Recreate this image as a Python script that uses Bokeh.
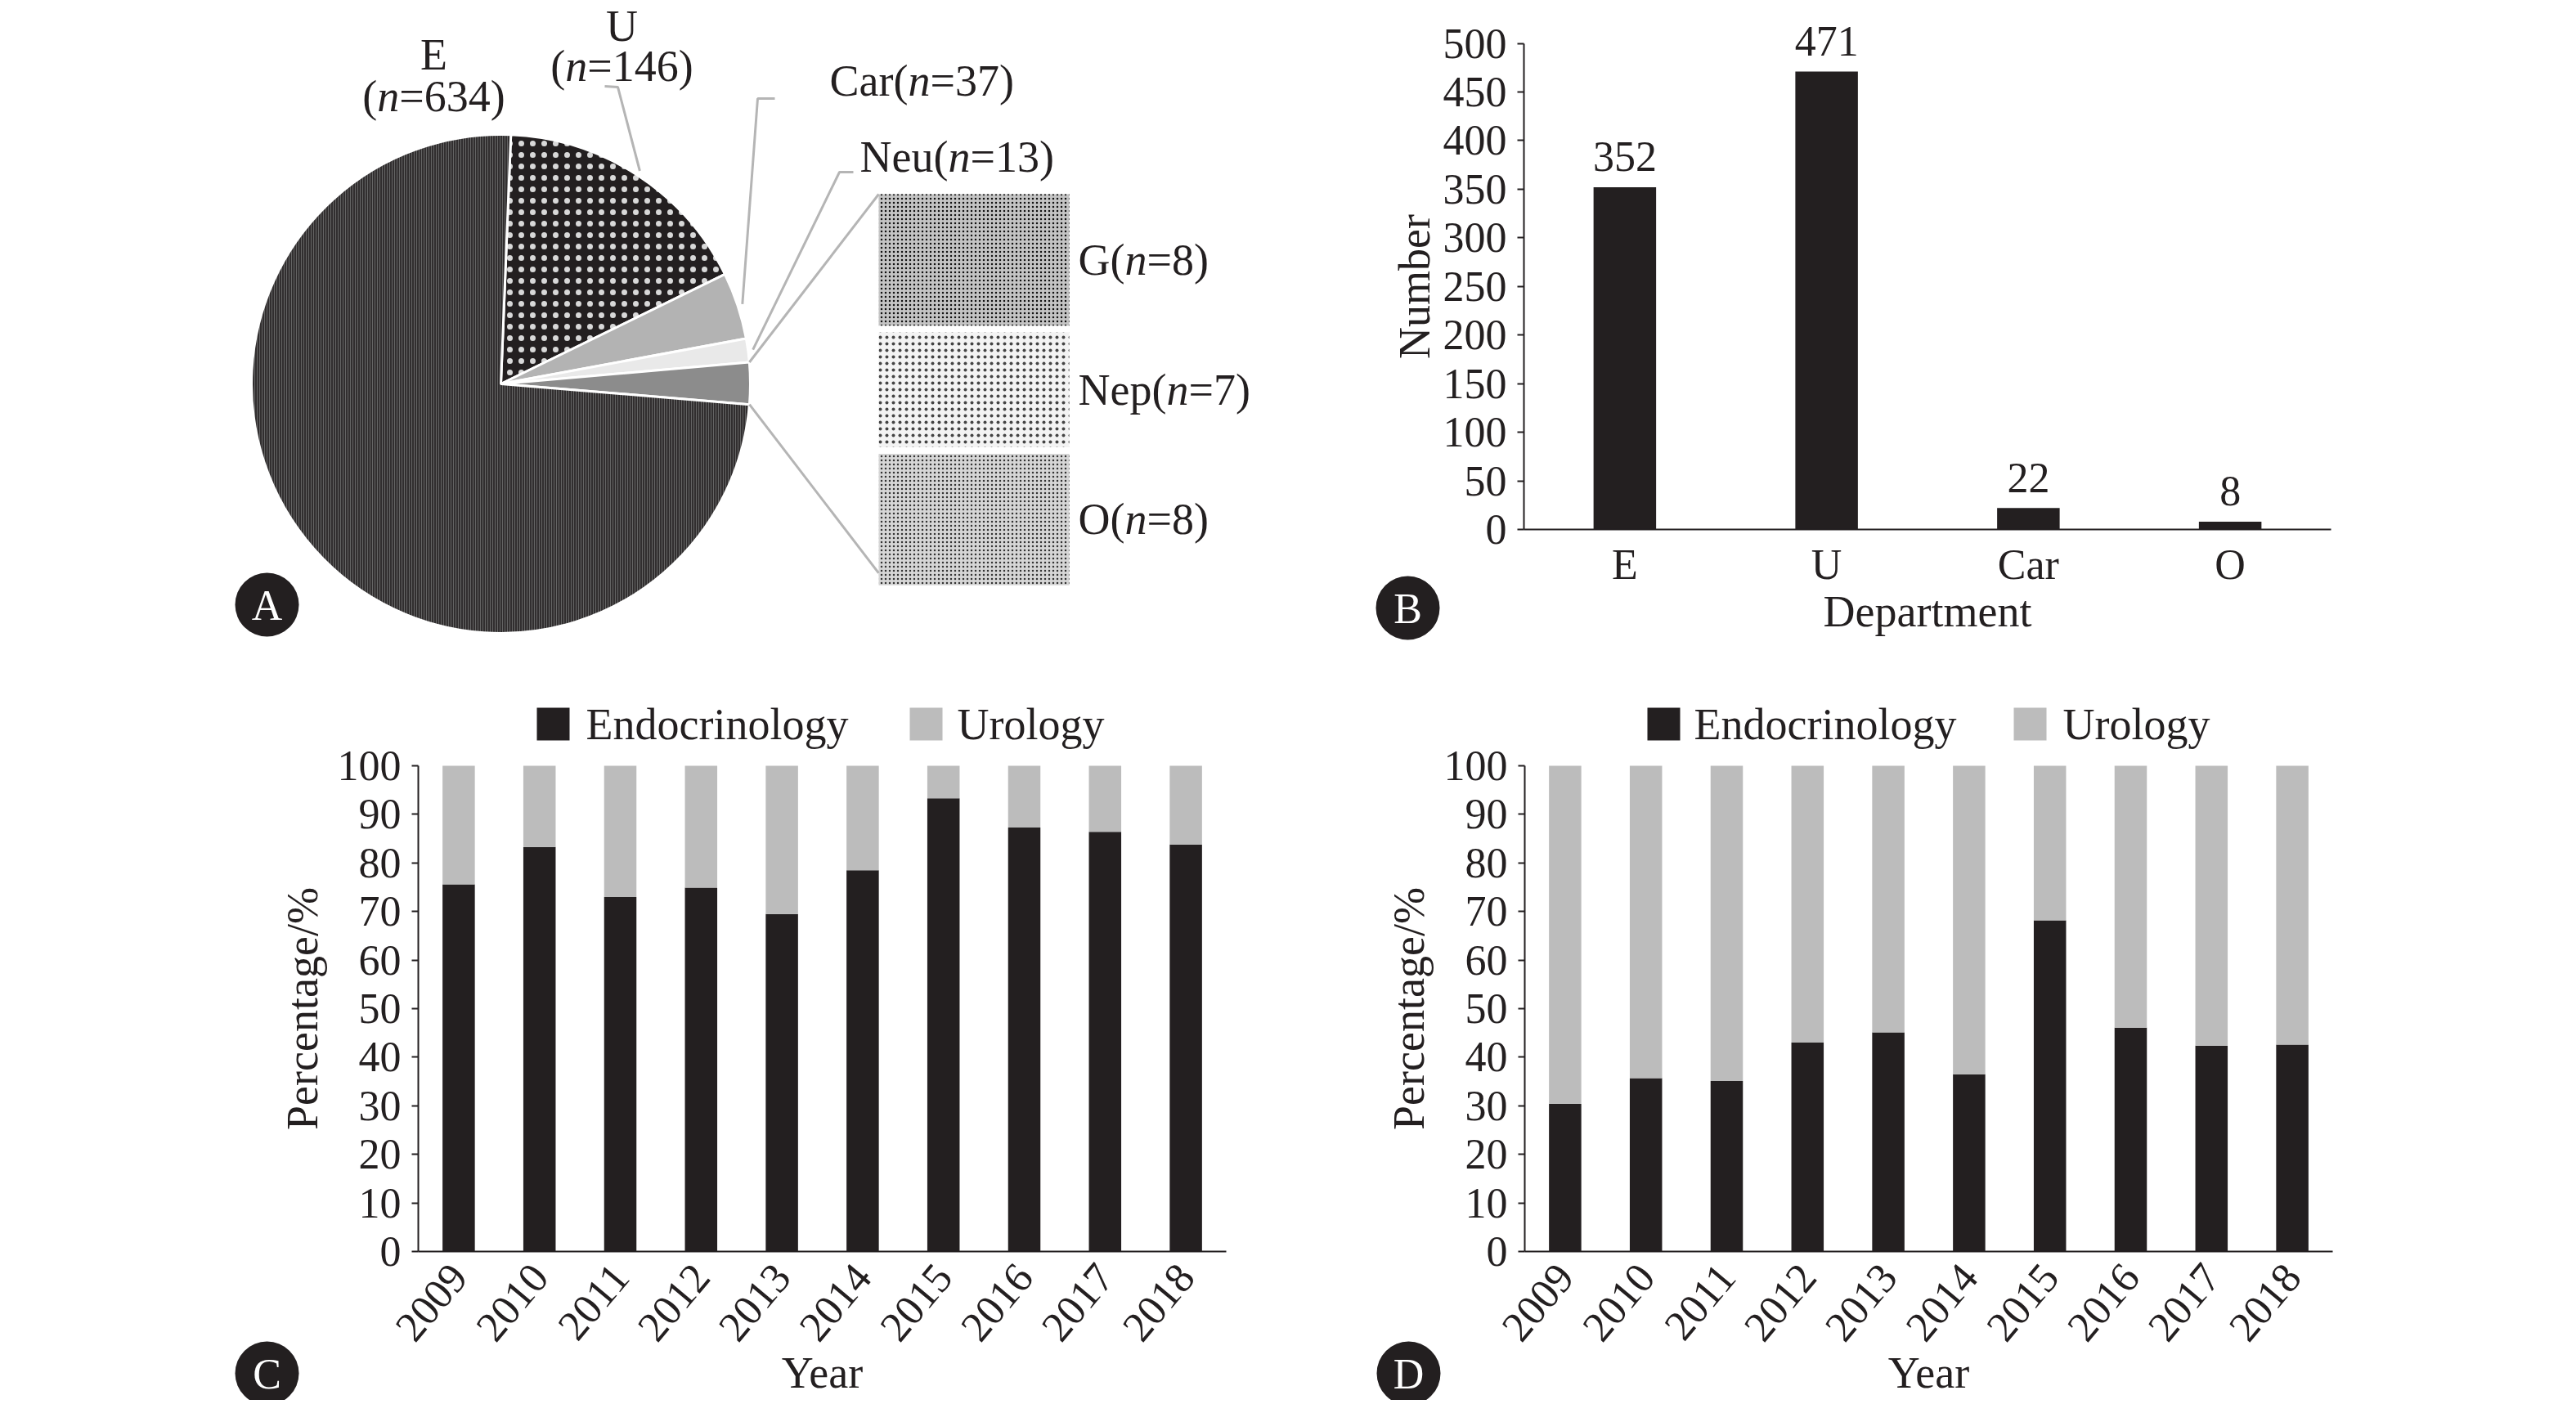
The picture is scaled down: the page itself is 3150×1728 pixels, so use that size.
import math
from bokeh.plotting import figure
from bokeh.models import Range1d, ColumnDataSource, FixedTicker
from bokeh.layouts import column, row
from bokeh.embed import file_html
from bokeh.resources import INLINE
from bokeh.core.properties import value

# ---------------- data ----------------
pie_depts = ["E", "U", "Car", "Neu"]
pie_counts = [634, 146, 37, 13]
other_depts = ["G", "Nep", "O"]
other_counts = [8, 7, 8]

dept = ["E", "U", "Car", "O"]
dept_counts = [352, 471, 22, 8]
dept_ticks = [0, 50, 100, 150, 200, 250, 300, 350, 400, 450, 500]

years = ["2009", "2010", "2011", "2012", "2013", "2014", "2015", "2016", "2017", "2018"]
endo_c = [75.6, 83.3, 73.0, 74.9, 69.5, 78.5, 93.3, 87.3, 86.4, 83.8]
uro_c = [24.4, 16.7, 27.0, 25.1, 30.5, 21.5, 6.7, 12.7, 13.6, 16.2]
endo_d = [30.4, 35.7, 35.1, 43.0, 45.1, 36.5, 68.2, 46.1, 42.4, 42.6]
uro_d = [69.6, 64.3, 64.9, 57.0, 54.9, 63.5, 31.8, 53.9, 57.6, 57.4]
pct_ticks = [0, 10, 20, 30, 40, 50, 60, 70, 80, 90, 100]
series = ["Endocrinology", "Urology"]

# ---------------- style ----------------
FONT = "Liberation Serif"
INK = "#231f20"
LIGHT = "#bcbcbc"
LEADER = "#b5b5b5"
W, H = 1566, 856
TICK_SIZE = "52px"
TITLE_SIZE = "54px"
LABEL_SIZE = 54

# Liberation Serif (Times-metric) advance widths, per 1000 em
CW = {"(": 333, ")": 333, "=": 564, "n": 500, "C": 667, "a": 444, "r": 333, "N": 722,
      "e": 444, "u": 500, "G": 722, "p": 500, "O": 722, "E": 611, "U": 722}
for d in "0123456789":
    CW[d] = 500


def tw(s, size):
    return sum(CW[c] for c in s) * size / 1000.0


class Box:
    """Maps a pixel box of the figure (the plotting area) onto a data box."""

    def __init__(self, lpx, rpx, tpx, bpx, x0, x1, y0, y1):
        self.lpx, self.bpx, self.x0, self.y0 = lpx, bpx, x0, y0
        self.kx = (x1 - x0) / float(rpx - lpx)
        self.ky = (y1 - y0) / float(bpx - tpx)
        self.xr = Range1d(x0 - lpx * self.kx, x1 + (W - rpx) * self.kx)
        self.yr = Range1d(y0 - (H - bpx) * self.ky, y1 + tpx * self.ky)

    def x(self, px):
        return self.x0 + (px - self.lpx) * self.kx

    def y(self, py):
        return self.y0 + (self.bpx - py) * self.ky


def new_fig(box):
    p = figure(width=W, height=H, x_range=box.xr, y_range=box.yr, min_border=0,
               toolbar_location=None, output_backend="svg", outline_line_color=None)
    p.grid.visible = False
    return p


def badge(p, box, letter, px, py):
    p.scatter(x=[box.x(px)], y=[box.y(py)], marker="circle", size=78,
              fill_color=INK, line_color=None)
    p.text(x=[box.x(px)], y=[box.y(py + 1)], text=[letter], text_font=value(FONT),
           text_font_size="52px", text_color="white", text_align="center",
           text_baseline="middle")


def style_axes(p):
    for ax in p.axis:
        ax.axis_line_color = INK
        ax.axis_line_width = 2
        ax.major_label_text_font = FONT
        ax.major_label_text_font_size = TICK_SIZE
        ax.major_label_text_color = INK
        ax.axis_label_text_font = FONT
        ax.axis_label_text_font_size = TITLE_SIZE
        ax.axis_label_text_font_style = "normal"
        ax.axis_label_text_color = INK
        ax.minor_tick_line_color = None
        ax.major_tick_line_color = INK
        ax.major_tick_line_width = 2
    p.xaxis.major_tick_out = 0
    p.xaxis.major_tick_in = 0
    p.yaxis.major_tick_out = 8
    p.yaxis.major_tick_in = 0
    p.yaxis.major_label_standoff = 13


# ================= Panel A: pie + bar of pie =================
boxA = Box(0, W, 0, H, 0, W, 0, H)  # 1 data unit = 1 px, y measured upward
pA = new_fig(boxA)
pA.axis.visible = False

CX, CY, R = 612, boxA.y(469), 305
slice_names = ["U", "Car", "Neu", "Other", "E"]
slice_counts = [pie_counts[1], pie_counts[2], pie_counts[3], sum(other_counts), pie_counts[0]]
total = sum(slice_counts)
START = 87.7
slice_style = {
    "U": dict(fill_color=INK, hatch_pattern="dot", hatch_color="#d8d8d8", hatch_scale=14, hatch_weight=1.1),
    "Car": dict(fill_color="#b3b3b3"),
    "Neu": dict(fill_color="#e9e9e9"),
    "Other": dict(fill_color="#8c8c8c"),
    "E": dict(fill_color="#312e2f", hatch_pattern="vertical_line", hatch_color="#646464",
              hatch_scale=3, hatch_weight=1),
}
mids, edges = {}, {}
a0 = START
for name, n in zip(slice_names, slice_counts):
    a1 = a0 - n / total * 360.0
    pA.wedge(x=CX, y=CY, radius=R, start_angle=a1, end_angle=a0,
             start_angle_units="deg", end_angle_units="deg",
             line_color="white", line_width=3, **slice_style[name])
    mids[name] = (a0 + a1) / 2.0
    edges[name] = (a0, a1)
    a0 = a1


def on_circle(angle_deg, r):
    t = math.radians(angle_deg)
    return CX + r * math.cos(t), CY + r * math.sin(t)


leader_stub = {"U": [(739, 105), (755, 106)], "Car": [(947, 120), (926, 120)],
               "Neu": [(1043, 210), (1026, 210)]}
for name, pts in leader_stub.items():
    ex, ey = on_circle(mids[name], R + 6)
    pA.line([q[0] for q in pts] + [ex], [boxA.y(q[1]) for q in pts] + [ey],
            line_color=LEADER, line_width=3)

BX0, BX1, BTOP, UNIT, GAP = 1074, 1307, 237, 20.1, 8
seg_style = [
    dict(fill_color="#c4c4c4", hatch_pattern="dot", hatch_color="#111111", hatch_scale=5, hatch_weight=1.6),
    dict(fill_color="#f3f3f3", hatch_pattern="dot", hatch_color="#444444", hatch_scale=8, hatch_weight=1.6),
    dict(fill_color="#d6d6d6", hatch_pattern="dot", hatch_color="#333333", hatch_scale=5, hatch_weight=1.4),
]
yy = BTOP
seg_tops, seg_bottoms = [], []
for n, st in zip(other_counts, seg_style):
    top, bot = yy, yy + n * UNIT
    pA.quad(left=[BX0], right=[BX1], top=[boxA.y(top)], bottom=[boxA.y(bot)], line_color=None, **st)
    seg_tops.append(top)
    seg_bottoms.append(bot)
    yy = bot + GAP

ux, uy = on_circle(edges["Other"][0], R)
lx, ly = on_circle(edges["Other"][1], R)
pA.line([ux, BX0], [uy, boxA.y(seg_tops[0])], line_color=LEADER, line_width=3)
pA.line([lx, BX0], [ly, boxA.y(seg_bottoms[-1] - 15)], line_color=LEADER, line_width=3)


def n_label(name, n, x, y_pix, align="left", size=LABEL_SIZE):
    parts = [(name + "(", "normal"), ("n", "italic"), ("=%d)" % n, "normal")]
    width = sum(tw(s, size) for s, _ in parts)
    x0 = x if align == "left" else x - width / 2.0
    for s, st in parts:
        pA.text(x=[x0], y=[boxA.y(y_pix)], text=[s], text_font=value(FONT),
                text_font_size="%dpx" % size, text_font_style=st, text_color=INK,
                text_align="left", text_baseline="middle")
        x0 += tw(s, size)


def plain_label(s, x, y_pix, size=LABEL_SIZE):
    pA.text(x=[x], y=[boxA.y(y_pix)], text=[s], text_font=value(FONT),
            text_font_size="%dpx" % size, text_color=INK,
            text_align="center", text_baseline="middle")


plain_label(pie_depts[0], 530, 66)
n_label("", pie_counts[0], 530, 117, align="center")
plain_label(pie_depts[1], 760, 31)
n_label("", pie_counts[1], 760, 80, align="center")
n_label(pie_depts[2], pie_counts[2], 1014, 98)
n_label(pie_depts[3], pie_counts[3], 1051, 191)
for name, n, t, b in zip(other_depts, other_counts, seg_tops, seg_bottoms):
    n_label(name, n, 1318, (t + b) / 2.0)

badge(pA, boxA, "A", 326, 739)

# ================= Panel B: department counts =================
xpos_b = [i + 1 for i in range(len(dept))]
boxB = Box(297, 1284, 52.5, 647, 0.5, len(dept) + 0.5, 0, 500)
pB = new_fig(boxB)
pB.vbar(x=xpos_b, top=dept_counts, width=0.31, fill_color=INK, line_color=None)
pB.text(x=xpos_b, y=[v + 37 * boxB.ky for v in dept_counts], text=[str(v) for v in dept_counts],
        text_font=value(FONT), text_font_size=TICK_SIZE, text_color=INK, text_align="center",
        text_baseline="alphabetic")
style_axes(pB)
pB.xaxis.fixed_location = 0
pB.yaxis.fixed_location = 0.5
pB.xaxis.bounds = (0.5, len(dept) + 0.5)
pB.yaxis.bounds = (0, 500)
pB.xaxis.ticker = FixedTicker(ticks=xpos_b)
pB.xaxis.major_label_overrides = {k: v for k, v in zip(xpos_b, dept)}
pB.yaxis.ticker = FixedTicker(ticks=dept_ticks)
pB.xaxis.axis_label = "Department"
pB.yaxis.axis_label = "Number"
pB.xaxis.major_label_standoff = 14
pB.xaxis.axis_label_standoff = -4
pB.yaxis.axis_label_standoff = 2
badge(pB, boxB, "B", 155, 743)


# ================= Panels C, D: stacked percentages =================
def stacked(endo, uro, left_px, legend_px, letter, badge_px):
    xpos = [i + 1 for i in range(len(years))]
    box = Box(left_px, left_px + 988, 80, 674, 0.5, len(years) + 0.5, 0, 100)
    p = new_fig(box)
    src = ColumnDataSource(dict(x=xpos, Endocrinology=endo, Urology=uro))
    p.vbar_stack(series, x="x", width=0.4, fill_color=[INK, LIGHT], line_color=None, source=src)
    style_axes(p)
    p.xaxis.fixed_location = 0
    p.yaxis.fixed_location = 0.5
    p.xaxis.bounds = (0.5, len(years) + 0.5)
    p.yaxis.bounds = (0, 100)
    p.xaxis.ticker = FixedTicker(ticks=xpos)
    p.xaxis.major_label_overrides = {k: v for k, v in zip(xpos, years)}
    p.yaxis.ticker = FixedTicker(ticks=pct_ticks)
    p.xaxis.major_label_orientation = math.radians(50)
    p.xaxis.major_label_standoff = 22
    p.xaxis.axis_label = "Year"
    p.yaxis.axis_label = "Percentage/%"
    p.xaxis.axis_label_standoff = -9
    p.yaxis.axis_label_standoff = 10
    # legend (swatch + label) above the plotting area
    for name, col, (sq_px, txt_px) in zip(series, [INK, LIGHT], legend_px):
        p.scatter(x=[box.x(sq_px)], y=[box.y(29)], marker="square", size=40,
                  fill_color=col, line_color=None)
        p.text(x=[box.x(txt_px)], y=[box.y(29)], text=[name], text_font=value(FONT),
               text_font_size=TITLE_SIZE, text_color=INK, text_align="left",
               text_baseline="middle")
    badge(p, box, letter, badge_px[0], badge_px[1])
    return p


pC = stacked(endo_c, uro_c, 511, [(676, 716), (1132, 1170)], "C", (326, 823))
pD = stacked(endo_d, uro_d, 298, [(468, 505), (916, 956)], "D", (156, 823))

layout = column(row(pA, pB), row(pC, pD))
open("out.html", "w").write(file_html(layout, INLINE, title="Departments"))
